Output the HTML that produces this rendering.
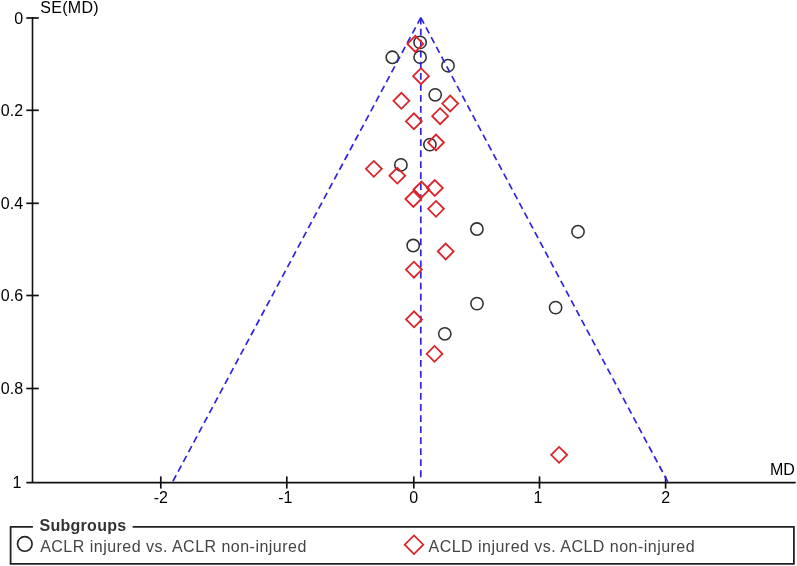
<!DOCTYPE html>
<html><head><meta charset="utf-8"><style>
html,body{margin:0;padding:0;background:#fff;}
body{width:797px;height:566px;overflow:hidden;}
svg{display:block;will-change:transform;font-family:"Liberation Sans",sans-serif;font-size:16px;}
</style></head><body>
<svg width="797" height="566" viewBox="0 0 797 566">
<rect width="797" height="566" fill="#fff"/>
<line x1="32.5" y1="17" x2="32.5" y2="482.6" stroke="#111" stroke-width="1.6"/>
<line x1="26.4" y1="482.6" x2="795.7" y2="482.6" stroke="#111" stroke-width="1.8"/>
<line x1="26.3" y1="18.0" x2="38.8" y2="18.0" stroke="#111" stroke-width="1.7"/>
<text x="23.1" y="23.8" text-anchor="end">0</text>
<line x1="26.3" y1="110.3" x2="38.8" y2="110.3" stroke="#111" stroke-width="1.7"/>
<text x="23.1" y="116.1" text-anchor="end">0.2</text>
<line x1="26.3" y1="203.3" x2="38.8" y2="203.3" stroke="#111" stroke-width="1.7"/>
<text x="23.1" y="209.1" text-anchor="end">0.4</text>
<line x1="26.3" y1="295.5" x2="38.8" y2="295.5" stroke="#111" stroke-width="1.7"/>
<text x="23.1" y="301.3" text-anchor="end">0.6</text>
<line x1="26.3" y1="388.5" x2="38.8" y2="388.5" stroke="#111" stroke-width="1.7"/>
<text x="23.1" y="394.3" text-anchor="end">0.8</text>
<text x="21.5" y="488.4" text-anchor="end">1</text>
<line x1="160.8" y1="476.4" x2="160.8" y2="488.6" stroke="#111" stroke-width="1.7"/>
<text x="160.8" y="502.5" text-anchor="middle">-2</text>
<line x1="286.8" y1="476.4" x2="286.8" y2="488.6" stroke="#111" stroke-width="1.7"/>
<text x="285.3" y="502.5" text-anchor="middle">-1</text>
<line x1="413.8" y1="476.4" x2="413.8" y2="488.6" stroke="#111" stroke-width="1.7"/>
<text x="413.8" y="502.5" text-anchor="middle">0</text>
<line x1="539.5" y1="476.4" x2="539.5" y2="488.6" stroke="#111" stroke-width="1.7"/>
<text x="538.0" y="502.5" text-anchor="middle">1</text>
<line x1="665.6" y1="476.4" x2="665.6" y2="488.6" stroke="#111" stroke-width="1.7"/>
<text x="665.6" y="502.5" text-anchor="middle">2</text>
<text x="40.2" y="13" letter-spacing="0.3">SE(MD)</text>
<text x="770" y="474.7">MD</text>
<circle cx="420.1" cy="42.4" r="6.15" fill="none" stroke="#303030" stroke-width="1.55"/>
<circle cx="392.3" cy="57.3" r="6.15" fill="none" stroke="#303030" stroke-width="1.55"/>
<circle cx="420.1" cy="57.2" r="6.15" fill="none" stroke="#303030" stroke-width="1.55"/>
<circle cx="448.0" cy="65.7" r="6.15" fill="none" stroke="#303030" stroke-width="1.55"/>
<circle cx="435.2" cy="94.8" r="6.15" fill="none" stroke="#303030" stroke-width="1.55"/>
<circle cx="429.9" cy="144.6" r="6.15" fill="none" stroke="#303030" stroke-width="1.55"/>
<circle cx="400.9" cy="164.9" r="6.15" fill="none" stroke="#303030" stroke-width="1.55"/>
<circle cx="476.9" cy="229.0" r="6.15" fill="none" stroke="#303030" stroke-width="1.55"/>
<circle cx="578.0" cy="231.7" r="6.15" fill="none" stroke="#303030" stroke-width="1.55"/>
<circle cx="413.2" cy="245.5" r="6.15" fill="none" stroke="#303030" stroke-width="1.55"/>
<circle cx="477.0" cy="303.6" r="6.15" fill="none" stroke="#303030" stroke-width="1.55"/>
<circle cx="555.6" cy="307.6" r="6.15" fill="none" stroke="#303030" stroke-width="1.55"/>
<circle cx="444.8" cy="333.8" r="6.15" fill="none" stroke="#303030" stroke-width="1.55"/>
<line x1="420.8" y1="17.7" x2="172.2" y2="482.6" stroke="rgb(46,36,224)" stroke-width="1.7" stroke-dasharray="6.8 4.24"/>
<line x1="420.8" y1="17.7" x2="420.8" y2="477.5" stroke="rgb(46,36,224)" stroke-width="1.7" stroke-dasharray="6.8 4.24"/>
<line x1="420.8" y1="17.7" x2="668.2" y2="482.6" stroke="rgb(46,36,224)" stroke-width="1.7" stroke-dasharray="6.8 4.24"/>
<path d="M407.4 43.9L415.3 35.9L423.2 43.9L415.3 51.9Z" fill="none" stroke="rgb(218,36,42)" stroke-width="1.8"/>
<path d="M413.1 76.2L421.0 68.2L428.9 76.2L421.0 84.2Z" fill="none" stroke="rgb(218,36,42)" stroke-width="1.8"/>
<path d="M393.4 100.8L401.4 92.8L409.3 100.8L401.4 108.8Z" fill="none" stroke="rgb(218,36,42)" stroke-width="1.8"/>
<path d="M442.2 103.6L450.2 95.6L458.1 103.6L450.2 111.5Z" fill="none" stroke="rgb(218,36,42)" stroke-width="1.8"/>
<path d="M432.2 116.2L440.1 108.2L448.1 116.2L440.1 124.2Z" fill="none" stroke="rgb(218,36,42)" stroke-width="1.8"/>
<path d="M405.9 121.3L413.9 113.3L421.8 121.3L413.9 129.2Z" fill="none" stroke="rgb(218,36,42)" stroke-width="1.8"/>
<path d="M428.1 142.5L436.0 134.6L443.9 142.5L436.0 150.4Z" fill="none" stroke="rgb(218,36,42)" stroke-width="1.8"/>
<path d="M365.9 168.8L373.8 160.9L381.8 168.8L373.8 176.8Z" fill="none" stroke="rgb(218,36,42)" stroke-width="1.8"/>
<path d="M389.4 175.7L397.3 167.8L405.2 175.7L397.3 183.6Z" fill="none" stroke="rgb(218,36,42)" stroke-width="1.8"/>
<path d="M426.9 188.0L434.8 180.1L442.8 188.0L434.8 195.9Z" fill="none" stroke="rgb(218,36,42)" stroke-width="1.8"/>
<path d="M413.6 189.5L421.5 181.6L429.4 189.5L421.5 197.4Z" fill="none" stroke="rgb(218,36,42)" stroke-width="1.8"/>
<path d="M405.4 199.0L413.4 191.1L421.3 199.0L413.4 206.9Z" fill="none" stroke="rgb(218,36,42)" stroke-width="1.8"/>
<path d="M428.1 208.8L436.0 200.9L443.9 208.8L436.0 216.8Z" fill="none" stroke="rgb(218,36,42)" stroke-width="1.8"/>
<path d="M437.8 251.4L445.7 243.5L453.6 251.4L445.7 259.4Z" fill="none" stroke="rgb(218,36,42)" stroke-width="1.8"/>
<path d="M405.9 269.6L413.9 261.7L421.8 269.6L413.9 277.6Z" fill="none" stroke="rgb(218,36,42)" stroke-width="1.8"/>
<path d="M406.1 319.4L414.0 311.4L421.9 319.4L414.0 327.3Z" fill="none" stroke="rgb(218,36,42)" stroke-width="1.8"/>
<path d="M426.6 353.8L434.5 345.9L442.4 353.8L434.5 361.8Z" fill="none" stroke="rgb(218,36,42)" stroke-width="1.8"/>
<path d="M551.1 454.8L559.1 446.9L567.1 454.8L559.1 462.8Z" fill="none" stroke="rgb(218,36,42)" stroke-width="1.8"/>
<path d="M32.9 526.9H10.6V563.9H793.9V526.9H132.6" fill="none" stroke="#222" stroke-width="1.8"/>
<text x="39.5" y="531.3" font-weight="bold" fill="#333" letter-spacing="0.28">Subgroups</text>
<circle cx="24.8" cy="543.9" r="7.3" fill="none" stroke="#222" stroke-width="1.6"/>
<text x="40.2" y="552.2" fill="#444" letter-spacing="0.48">ACLR injured vs. ACLR non-injured</text>
<path d="M404.7 544.7L414.0 535.4000000000001L423.3 544.7L414.0 554.0Z" fill="none" stroke="rgb(218,36,42)" stroke-width="1.75"/>
<text x="428.5" y="552.2" fill="#444" letter-spacing="0.48">ACLD injured vs. ACLD non-injured</text>
</svg>
</body></html>
